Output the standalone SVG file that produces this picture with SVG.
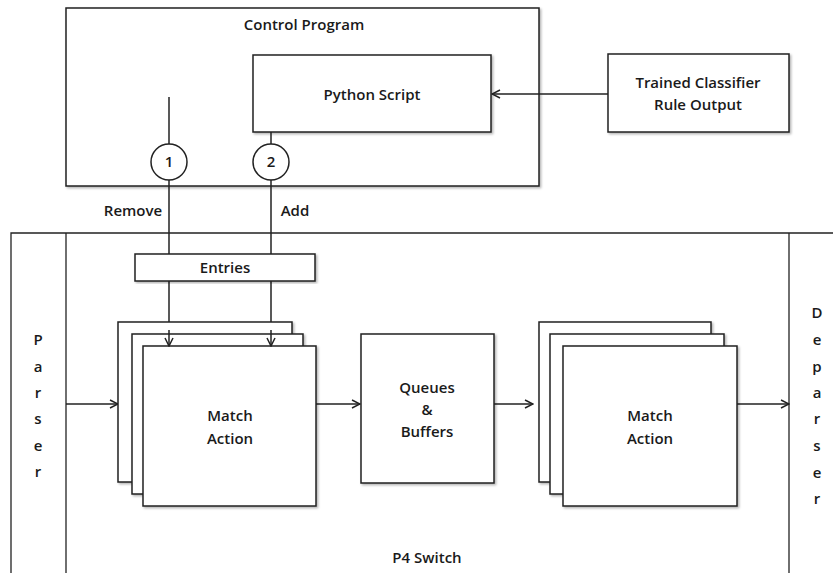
<svg xmlns="http://www.w3.org/2000/svg" width="833" height="573" viewBox="0 0 833 573">
  <defs>
    <marker id="arrow" viewBox="0 0 10 10" refX="9" refY="5" markerWidth="10" markerHeight="10" markerUnits="userSpaceOnUse" orient="auto">
      <path d="M1,1 L9,5 L1,9" fill="none" stroke="#222" stroke-width="1.5"/>
    </marker>
    <filter id="shadow" x="-5%" y="-5%" width="115%" height="115%">
      <feDropShadow dx="1.5" dy="1.5" stdDeviation="1" flood-color="#000" flood-opacity="0.3"/>
    </filter>
  </defs>
  <style>
    .box { fill: #fff; stroke: #222; stroke-width: 1.5; filter: url(#shadow); }
    .frame { fill: none; stroke: #222; stroke-width: 1.3; }
    .wire { fill: none; stroke: #222; stroke-width: 1.5; }
    .lbl { font-family: "Open Sans", "Noto Sans", sans-serif; font-size: 15px; font-weight: 600; fill: #1a1a1a; text-anchor: middle; }
  </style>
  <rect width="833" height="573" fill="#fff"/>

  <!-- P4 switch frame -->
  <g id="p4-switch">
    <path class="frame" d="M11,580 V233 H833"/>
    <line class="frame" x1="66" y1="233" x2="66" y2="580"/>
    <line class="frame" x1="789" y1="233" x2="789" y2="580"/>
    <text class="lbl" x="427" y="563">P4 Switch</text>
  </g>

  <!-- Parser column -->
  <g id="parser">
    <text class="lbl" x="38" y="345">P</text>
    <text class="lbl" x="38" y="372">a</text>
    <text class="lbl" x="38" y="398">r</text>
    <text class="lbl" x="38" y="424">s</text>
    <text class="lbl" x="38" y="451">e</text>
    <text class="lbl" x="38" y="477">r</text>
  </g>

  <!-- Deparser column -->
  <g id="deparser">
    <text class="lbl" x="817" y="318">D</text>
    <text class="lbl" x="817" y="345">e</text>
    <text class="lbl" x="817" y="372">p</text>
    <text class="lbl" x="817" y="398">a</text>
    <text class="lbl" x="817" y="424">r</text>
    <text class="lbl" x="817" y="451">s</text>
    <text class="lbl" x="817" y="478">e</text>
    <text class="lbl" x="817" y="504">r</text>
  </g>

  <!-- Control program -->
  <g id="control-program">
    <rect class="box" x="66" y="8" width="473" height="178"/>
    <text class="lbl" x="304" y="30">Control Program</text>
  </g>

  <g id="python-script">
    <rect class="box" x="253" y="55" width="238" height="77"/>
    <text class="lbl" x="372" y="100">Python Script</text>
  </g>

  <g id="classifier">
    <rect class="box" x="608" y="54" width="181" height="78"/>
    <text class="lbl" x="698" y="88">Trained Classifier</text>
    <text class="lbl" x="698" y="110">Rule Output</text>
  </g>

  <!-- Connectors -->
  <g id="connectors">
    <line class="wire" x1="608" y1="94" x2="492" y2="94" marker-end="url(#arrow)"/>
    <line class="wire" x1="169" y1="97" x2="169" y2="144"/>
    <line class="wire" x1="271" y1="132" x2="271" y2="144"/>
    <line class="wire" x1="169" y1="180" x2="169" y2="254"/>
    <line class="wire" x1="271" y1="180" x2="271" y2="254"/>
    <line class="wire" x1="169" y1="281" x2="169" y2="346" marker-end="url(#arrow)"/>
    <line class="wire" x1="271" y1="281" x2="271" y2="346" marker-end="url(#arrow)"/>
    <line class="wire" x1="66" y1="404" x2="118" y2="404" marker-end="url(#arrow)"/>
    <line class="wire" x1="316" y1="404" x2="360" y2="404" marker-end="url(#arrow)"/>
    <line class="wire" x1="494" y1="404" x2="533" y2="404" marker-end="url(#arrow)"/>
    <line class="wire" x1="737" y1="404" x2="789" y2="404" marker-end="url(#arrow)"/>
    <text class="lbl" x="133" y="216">Remove</text>
    <text class="lbl" x="295" y="216">Add</text>
  </g>

  <g id="step-1">
    <circle cx="169" cy="162" r="18" fill="#fff" stroke="#222" stroke-width="1.5"/>
    <text class="lbl" x="169" y="167">1</text>
  </g>

  <g id="step-2">
    <circle cx="271" cy="162" r="18" fill="#fff" stroke="#222" stroke-width="1.5"/>
    <text class="lbl" x="271" y="167">2</text>
  </g>

  <g id="entries">
    <rect class="box" x="135" y="254" width="180" height="27"/>
    <text class="lbl" x="225" y="273">Entries</text>
  </g>

  <!-- Ingress match-action stages -->
  <g id="match-action-ingress">
    <rect class="box" x="118" y="322" width="174" height="160"/>
    <rect class="box" x="132" y="334" width="171" height="160"/>
    <rect class="box" x="143" y="346" width="173" height="160"/>
    <text class="lbl" x="230" y="421">Match</text>
    <text class="lbl" x="230" y="444">Action</text>
  </g>

  <g id="queues-buffers">
    <rect class="box" x="361" y="334" width="133" height="149"/>
    <text class="lbl" x="427" y="393">Queues</text>
    <text class="lbl" x="427" y="415">&amp;</text>
    <text class="lbl" x="427" y="437">Buffers</text>
  </g>

  <!-- Egress match-action stages -->
  <g id="match-action-egress">
    <rect class="box" x="539" y="322" width="172" height="160"/>
    <rect class="box" x="550" y="334" width="174" height="160"/>
    <rect class="box" x="563" y="346" width="174" height="160"/>
    <text class="lbl" x="650" y="421">Match</text>
    <text class="lbl" x="650" y="444">Action</text>
  </g>

  <!-- arrowheads drawn on top of the stacked boxes -->
  <g id="connector-tips">
    <line class="wire" x1="169" y1="330" x2="169" y2="346" marker-end="url(#arrow)"/>
    <line class="wire" x1="271" y1="330" x2="271" y2="346" marker-end="url(#arrow)"/>
  </g>
</svg>
